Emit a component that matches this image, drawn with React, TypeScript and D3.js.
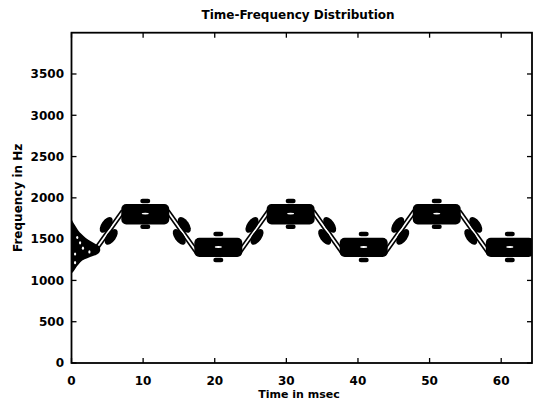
import React from "react";
import * as d3 from "d3";

// ---- data ----
const xTicks = [0, 10, 20, 30, 40, 50, 60];
const yTicks = [0, 500, 1000, 1500, 2000, 2500, 3000, 3500];

// plateau centres (ms) and half-width
const highCenters = [10.3, 30.6, 51.0];
const lowCenters = [20.5, 40.8, 61.2];
const plateauHalfWidth = 3.35;
const highBand = [1678, 1925];
const lowBand = [1285, 1517];
// small contour islands above / below plateau centres
const highDashF = [1962, 1650];
const lowDashF = [1562, 1248];
const highInnerF = 1810;
const lowInnerF = 1405;

// ridge lines of the frequency transitions
const ridgeT0 = [3.0, 13.4, 23.35, 33.7, 43.7, 54.1];
const ridgeF0 = [1330, 1840, 1330, 1840, 1330, 1840];
const ridgeT1 = [7.2, 17.6, 27.55, 37.9, 47.9, 58.3];
const ridgeF1 = [1840, 1330, 1840, 1330, 1840, 1330];

// cross-term blobs along the transitions
const blobT = [4.85, 5.55, 15.75, 15.05, 25.2, 25.9, 36.05, 35.35, 45.55, 46.25, 56.45, 55.75];
const blobF = [1672, 1528, 1672, 1528, 1672, 1528, 1672, 1528, 1672, 1528, 1672, 1528];
const blobRidge = [0, 0, 1, 1, 2, 2, 3, 3, 4, 4, 5, 5];

// edge artefact at t = 0
const edgeT = [0, 0.4, 0.9, 1.4, 2.0, 2.7, 3.3, 3.9, 4.0, 3.7, 3.0, 2.2, 1.5, 1.0, 0.6, 0.3, 0];
const edgeF = [1740, 1680, 1612, 1562, 1515, 1475, 1445, 1410, 1360, 1322, 1295, 1270, 1240, 1195, 1150, 1110, 1080];
const edgeSpeckT = [0.8, 1.6, 0.5, 2.5, 0.5, 1.2];
const edgeSpeckF = [1520, 1390, 1320, 1345, 1215, 1455];

// ---- layout ----
const W = 533;
const H = 401;
const L = 71.5;
const R = 532;
const T = 32.7;
const B = 363;
const FONT = "'DejaVu Sans', Verdana, sans-serif";

export default function App() {
  const x = d3.scaleLinear().domain([0, 64.3]).range([L, R]);
  const y = d3.scaleLinear().domain([0, 4000]).range([B, T]);

  const plateaus = [
    ...highCenters.map((c) => ({ c, band: highBand, dash: highDashF, inner: highInnerF })),
    ...lowCenters.map((c) => ({ c, band: lowBand, dash: lowDashF, inner: lowInnerF })),
  ];

  const ridges = ridgeT0.map((t0, i) => {
    const x0 = x(t0), y0 = y(ridgeF0[i]), x1 = x(ridgeT1[i]), y1 = y(ridgeF1[i]);
    const len = Math.hypot(x1 - x0, y1 - y0);
    const nx = -(y1 - y0) / len, ny = (x1 - x0) / len;
    const ang = (Math.atan2(y1 - y0, x1 - x0) * 180) / Math.PI;
    return { x0, y0, x1, y1, nx, ny, ang };
  });

  const edgePath = d3
    .line<number>()
    .x((i) => x(edgeT[i]))
    .y((i) => y(edgeF[i]))
    .curve(d3.curveCatmullRom)(edgeT.map((_, i) => i)) + "Z";

  return (
    <svg width={W} height={H} style={{ position: "absolute", left: 0, top: 0, background: "#fff" }}>
      <defs>
        <clipPath id="plot">
          <rect x={L} y={T} width={R - L} height={B - T} />
        </clipPath>
      </defs>
      <rect x={0} y={0} width={W} height={H} fill="#fff" />

      <g clipPath="url(#plot)">
        {/* ridge lines */}
        {ridges.map((r, i) => (
          <g key={"r" + i} stroke="#000" strokeWidth={1.6} fill="none">
            <line x1={r.x0 + r.nx * 1.7} y1={r.y0 + r.ny * 1.7} x2={r.x1 + r.nx * 1.7} y2={r.y1 + r.ny * 1.7} />
            <line x1={r.x0 - r.nx * 1.7} y1={r.y0 - r.ny * 1.7} x2={r.x1 - r.nx * 1.7} y2={r.y1 - r.ny * 1.7} />
          </g>
        ))}
        {/* blobs */}
        {blobT.map((t, i) => (
          <ellipse
            key={"b" + i}
            cx={x(t)}
            cy={y(blobF[i])}
            rx={9}
            ry={4.8}
            transform={`rotate(${ridges[blobRidge[i]].ang} ${x(t)} ${y(blobF[i])})`}
            fill="#000"
          />
        ))}
        {/* plateaus */}
        {plateaus.map((p, i) => {
          const x0 = x(p.c - plateauHalfWidth);
          const x1 = x(p.c + plateauHalfWidth);
          const yt = y(p.band[1]);
          const yb = y(p.band[0]);
          return (
            <g key={"p" + i}>
              <rect x={x0} y={yt} width={x1 - x0} height={yb - yt} rx={5} ry={5} fill="#000" />
              <rect x={x(p.c) - 5} y={y(p.dash[0]) - 2.3} width={10} height={4.6} rx={2.3} fill="#000" />
              <rect x={x(p.c) - 5} y={y(p.dash[1]) - 2.3} width={10} height={4.6} rx={2.3} fill="#000" />
              <ellipse cx={x(p.c)} cy={y(p.inner)} rx={3.5} ry={0.9} fill="#fff" />
            </g>
          );
        })}
        {/* edge artefact */}
        <path d={edgePath} fill="#000" />
        {edgeSpeckT.map((t, i) => (
          <ellipse key={"s" + i} cx={x(t)} cy={y(edgeSpeckF[i])} rx={1.1} ry={1.6} fill="#fff" />
        ))}
      </g>

      {/* frame */}
      <rect x={L} y={T} width={R - L} height={B - T} fill="none" stroke="#000" strokeWidth={1.8} />
      {/* ticks */}
      <g stroke="#000" strokeWidth={1.3}>
        {xTicks.map((t) => (
          <g key={"xt" + t}>
            <line x1={x(t)} x2={x(t)} y1={B} y2={B - 5} />
            <line x1={x(t)} x2={x(t)} y1={T} y2={T + 5} />
          </g>
        ))}
        {yTicks.map((f) => (
          <g key={"yt" + f}>
            <line x1={L} x2={L + 5} y1={y(f)} y2={y(f)} />
            <line x1={R} x2={R - 5} y1={y(f)} y2={y(f)} />
          </g>
        ))}
      </g>
      {/* tick labels */}
      <g fontFamily={FONT} fontWeight="bold" fontSize={12} fill="#000">
        {xTicks.map((t) => (
          <text key={"xl" + t} x={x(t)} y={384.5} textAnchor="middle">
            {t}
          </text>
        ))}
        {yTicks.map((f) => (
          <text key={"yl" + f} x={64} y={y(f)} dy="0.36em" textAnchor="end">
            {f}
          </text>
        ))}
        <text x={299} y={398} fontSize={11} textAnchor="middle">
          Time in msec
        </text>
        <text transform={`translate(21.5 ${(T + B) / 2}) rotate(-90)`} textAnchor="middle">
          Frequency in Hz
        </text>
        <text x={298} y={19} textAnchor="middle">
          Time-Frequency Distribution
        </text>
      </g>
    </svg>
  );
}
